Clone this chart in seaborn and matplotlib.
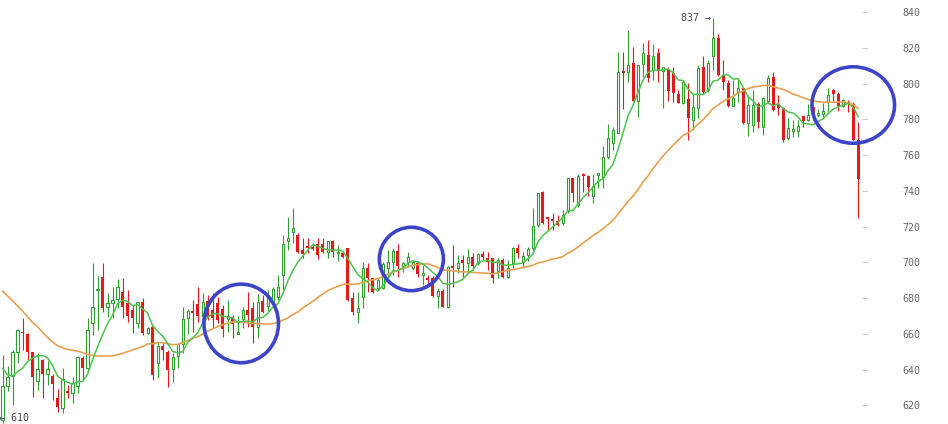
import numpy as np
import pandas as pd
import seaborn as sns
import matplotlib.pyplot as plt
from matplotlib.patches import Ellipse

# OHLC values, one entry per candle (172 candles)
opens = [612, 631, 636.4, 650, 660.6, 659.9, 649.6, 633.8, 645.3, 637.3,
         636.4, 623.9, 618.3, 627.3, 626.7, 630.8, 646.6, 640.7, 665.9, 684.3,
         691.6, 675.2, 677.4, 679.3, 683.6, 677.4, 673.3, 666.2, 678, 660.6,
         663.6, 643.5, 653.2, 650, 640.1, 647.6, 654.3, 668.7, 672.2, 676.7,
         670, 678.4, 673.3, 677.1, 673.7, 668.1, 669.6, 659.9, 668.1, 673.3,
         674.3, 664, 678.4, 675.6, 678.6, 680.8, 692.9, 712.1, 717.2, 715.3,
         706.9, 708.6, 708.2, 710.1, 710.1, 705.6, 712, 705, 705, 707.8,
         679.8, 672.4, 680.8, 696.7, 691.1, 685.5, 685.8, 696.7, 700.4, 706.4,
         697.9, 700.4, 697, 699.8, 692.8, 690.3, 691.1, 681.2, 684, 675.2,
         696.9, 696.6, 701.3, 699.5, 702.8, 699.8, 704.5, 702.3, 702.3, 695.4,
         701.3, 691.6, 699.5, 707.9, 700.4, 704.2, 707.9, 721, 739.2, 725.2,
         724.1, 723.4, 721.9, 729, 747.1, 732.1, 749, 748.4, 737.4, 748.8,
         748, 759.2, 767, 772.6, 806.4, 806.8, 811.4, 790.5, 810.9, 816.1,
         807.7, 817, 807.4, 807.7, 805.8, 794.1, 789.4, 791.3, 779.7, 786.3,
         809.6, 796.5, 815.7, 825.4, 804.9, 800.3, 787.7, 795.6, 797.5, 777.9,
         776.9, 788.5, 776, 790.4, 804, 788.5, 786.3, 769.5, 773.5, 773.6,
         782, 779.7, 787.2, 782.7, 782.9, 789.6, 796.5, 794.1, 787.7, 790,
         788.5, 768.5]
highs = [648, 642, 651, 662.5, 668.7, 660.6, 650, 649, 646, 645,
         637.5, 629, 640.7, 631.4, 636, 647.5, 647.6, 669, 699.8, 692.4,
         699.8, 682.6, 686.4, 690.5, 691, 684.5, 676.1, 678, 679.8, 663.6,
         665, 655.6, 655, 651, 649, 654.7, 675.2, 673.7, 679, 686.4,
         682.6, 681.7, 682.6, 680.8, 676.1, 678.9, 670.5, 670, 674.8, 683.6,
         678, 682.3, 681.7, 684.5, 686, 693, 715.3, 725.6, 730.2, 716.2,
         713.8, 713.8, 710.6, 713.4, 713.4, 712, 712.5, 709.7, 706, 708.2,
         683.6, 683.6, 700.4, 699.4, 691.1, 691.1, 700.4, 706.9, 707.8, 710.1,
         700.4, 706, 701.3, 700.8, 698.5, 692.9, 692.4, 685.5, 684.9, 698,
         709.7, 704.1, 704.1, 707.3, 705, 705.4, 706.4, 706, 702.3, 702.3,
         702.3, 701.3, 708.8, 710.3, 706, 708.8, 730.3, 739, 740.2, 725.2,
         727.8, 726.5, 729.3, 747.1, 747.1, 749.5, 749.9, 749, 749, 749,
         765.2, 777.5, 775.6, 817.6, 817.6, 830.1, 820.4, 810.5, 822.6, 824.5,
         822.1, 820.2, 809.2, 809.6, 809.6, 796.5, 802.1, 800.3, 794.7, 810.5,
         815.7, 813.3, 837, 827.7, 813.3, 802.1, 802.1, 803.1, 797.8, 793.7,
         796.5, 790, 792.8, 804.9, 806.8, 793.7, 787.2, 780.7, 779.7, 779.7,
         782, 788.5, 787.2, 785.9, 789, 797.8, 797.1, 795.2, 791.3, 790.9,
         790, 778.4]
lows = [610, 628, 620, 643.9, 651, 645.4, 624.4, 628.5, 623.9, 631.4,
        623, 616.4, 615.5, 623.9, 621.1, 626.7, 634.5, 637.9, 659.3, 662.1,
        672.4, 669.6, 668.7, 674.3, 668.7, 666.8, 660.6, 663, 659.3, 660,
        634.1, 635.1, 645.4, 630.4, 633.2, 640.7, 649.1, 660, 661.2, 666.8,
        665, 667.7, 663.1, 665.9, 658.4, 661.2, 657.5, 659.7, 663.1, 664,
        655, 657.5, 671.5, 672.9, 677.4, 679, 684.5, 706.9, 710.6, 705,
        702.2, 705, 706.9, 701.9, 705, 702.2, 703.2, 700.8, 702.2, 678.4,
        670.5, 665.9, 674.3, 683.6, 682.7, 684.5, 685.1, 689.2, 692.9, 692,
        694.8, 697.6, 695.7, 692, 687.3, 687.3, 680.8, 674.6, 674.8, 674.3,
        686.4, 693.9, 692, 693.9, 695.7, 698.5, 701.3, 695.7, 688.3, 691.1,
        691.1, 691.1, 696.7, 702.3, 696.7, 701, 705.1, 719.6, 721.5, 718.1,
        718.1, 720.4, 721, 727.8, 734, 731.2, 739.6, 737.2, 733.4, 741.5,
        741.5, 757.7, 762.9, 772.3, 785.7, 801.2, 790.5, 781.6, 804, 801.2,
        802.1, 800.8, 786.3, 790.4, 789.6, 789.1, 788.5, 768.5, 774.1, 780.7,
        794.7, 795.2, 807.7, 804.5, 796.5, 787.2, 787.7, 790, 777.3, 771,
        772.8, 775.4, 771.3, 789.1, 784.8, 782.5, 767.2, 768.5, 770.4, 770.4,
        776, 779.2, 779.7, 781.6, 781.6, 784.4, 790.4, 784.8, 787.2, 784.4,
        768.5, 725.1]
closes = [631, 635.6, 649.6, 662.1, 660.2, 650, 636, 640.1, 637.3, 640.3,
          631.9, 619.2, 634.5, 626.7, 632.6, 646.8, 640.7, 662.1, 674.8, 685.1,
          674.3, 677.1, 678.9, 686.4, 675.2, 670, 668.7, 677.6, 660.6, 663,
          637, 653.2, 651, 639.7, 646.8, 654.3, 668.1, 673, 671.5, 670,
          678, 669.6, 668.7, 667.7, 662.7, 670, 665.3, 660.7, 673.3, 670.5,
          664, 678, 672.4, 681.2, 684.9, 686, 710.3, 713.4, 719, 706,
          704.5, 708.2, 707.5, 704.1, 706, 712, 705.6, 705.3, 703.2, 678.9,
          672.4, 674.6, 696.7, 691.1, 683.6, 690.1, 698.9, 700, 706.4, 698.1,
          699.8, 702.8, 700.4, 693.3, 693.1, 690.1, 681.2, 684, 675.2, 697.2,
          696.7, 699.8, 699.8, 703.2, 698, 704.5, 702.8, 700.4, 691.1, 701.3,
          691.6, 696.7, 707.9, 705.1, 703.8, 707.3, 720.4, 739, 722.2, 724.1,
          723.4, 721, 726.5, 747.1, 738.7, 748.4, 748.6, 742, 743, 749,
          758.8, 769.5, 774.1, 806.4, 806, 810.5, 790.5, 810.5, 817, 803.1,
          815.5, 807.2, 809.2, 796, 794.7, 789.4, 800.8, 781, 787.2, 809,
          795.6, 811.4, 825.4, 804.9, 800.8, 787.7, 792.2, 797.5, 777.9, 788.1,
          788.1, 778.4, 792.2, 803.4, 785.3, 786.6, 768.5, 775.1, 773.8, 776.6,
          779.2, 782.5, 782.9, 783.1, 784.8, 793.7, 794.3, 787.7, 790.9, 788.5,
          768.5, 746.5]

# The averages already run at the left edge (earlier candles are off-chart),
# so their first visible values are read from the picture
ma_fast_head = [640.7, 637, 636.4, 638.8, 640.7, 644.4]
ma_slow_head = [684, 681.2, 678.5, 675.6, 672.8, 669.5, 666.4, 664, 660.8, 658,
                655.5, 653.3, 652.2, 651.2, 650.8, 650.3, 649.5, 648.5, 648, 647.6,
                647.6, 647.6, 647.6, 648.3, 649, 650, 651, 652, 652.8]

y_ticks = [620, 640, 660, 680, 700, 720, 740, 760, 780, 800, 820, 840]

# Highlighted zones: (candle index, price, width in candles, height in price)
circles = [(47.7, 665.8, 14.9, 44), (81.7, 701.9, 12.8, 35.5), (170.0, 788.1, 16.5, 42.8)]

df = pd.DataFrame({'open': opens, 'high': highs, 'low': lows, 'close': closes})
df['idx'] = np.arange(len(df))
df['ma_fast'] = df['close'].rolling(7).mean()
df['ma_slow'] = df['close'].rolling(30).mean()
df.loc[:len(ma_fast_head) - 1, 'ma_fast'] = ma_fast_head
df.loc[:len(ma_slow_head) - 1, 'ma_slow'] = ma_slow_head

green = '#2f9e2f'
red = '#e31a1c'

sns.set_style('white')
fig = plt.figure(figsize=(9.48, 4.24), dpi=100)
ax = fig.add_axes([0, 0, 862 / 948, 1])

up = df[df['close'] >= df['open']]
down = df[df['close'] < df['open']]

# wicks
ax.vlines(up['idx'], up['low'], up['high'], color=green, lw=0.8, zorder=1)
ax.vlines(down['idx'], down['low'], down['high'], color=red, lw=0.8, zorder=1)

# bodies: rising candles hollow, falling ones filled
h_up = np.maximum(up['close'] - up['open'], 1.0)
ax.bar(up['idx'], h_up, bottom=up['open'], width=0.45, facecolor='white',
       edgecolor=green, linewidth=0.8, zorder=2)
h_dn = np.maximum(down['open'] - down['close'], 1.0)
ax.bar(down['idx'], h_dn, bottom=down['close'], width=0.6, color=red,
       linewidth=0, zorder=2)

# moving averages
sns.lineplot(data=df, x='idx', y='ma_slow', color='#e8a050', lw=1.2, ax=ax, zorder=3)
sns.lineplot(data=df, x='idx', y='ma_fast', color='#4cc44c', lw=1.1, ax=ax, zorder=3)

for cx, cy, w, h in circles:
    ax.add_patch(Ellipse((cx, cy), w, h, fill=False, edgecolor='#3c44c8', lw=2.6,
                         zorder=4, clip_on=False))

# max / min markers
mono = ['DejaVu Sans Mono', 'DejaVu Sans']
i_max = int(np.argmax(highs))
i_min = int(np.argmin(lows))
ax.text(i_max - 0.4, highs[i_max], '{:.0f} \u2192'.format(highs[i_max]), ha='right', va='center',
        fontsize=7.2, color='#444444', family=mono)
ax.text(i_min - 0.6, 609.8, '\u2190 {:.0f}'.format(lows[i_min]), ha='left', va='bottom',
        fontsize=7.2, color='#444444', family=mono)

ax.set_xlim(-0.5, 171.75)
ax.set_ylim(609.5, 846.9)
ax.set_xticks([])
ax.set_yticks(y_ticks)
ax.set_yticklabels([str(t) for t in y_ticks], family=mono, fontsize=7.2, color='#666666')
ax.yaxis.tick_right()
ax.tick_params(axis='y', length=4.3, width=0.8, color='#cccccc', pad=25)
ax.set_xlabel('')
ax.set_ylabel('')
for s in ax.spines.values():
    s.set_visible(False)

plt.savefig('out.png', dpi=100)
